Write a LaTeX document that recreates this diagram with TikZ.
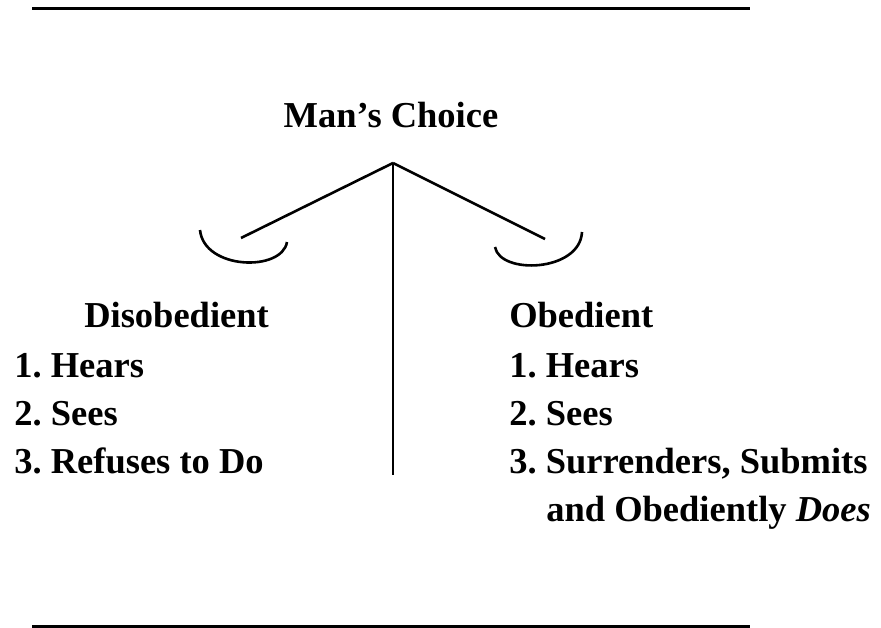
\documentclass[tikz,border=0pt]{standalone}
\usepackage{fontspec}
\setmainfont{Liberation Serif}

\begin{document}
\begin{tikzpicture}[x=1pt,y=-1pt,line width=2.6pt,
        txt/.style={anchor=base west,inner sep=0pt,font=\fontsize{36.5}{40}\selectfont\bfseries}]
        \useasboundingbox (0,0) rectangle (881,627);
        \draw[line width=3pt] (32,8) -- (750,8);
        \draw[line width=3pt] (32,626) -- (750,626);

        \node[txt,anchor=base] (choice) at (391,127) {Man's Choice};

        \coordinate (pivot) at (393,163);
        \coordinate (foot) at (393,475);
        \coordinate (lpan) at (241,238);
        \coordinate (rpan) at (545,239);

        \draw (pivot) -- (foot);
        \draw (pivot) -- (lpan);
        \draw (pivot) -- (rpan);
        \draw (200,230) .. controls (204,270) and (282,272) .. (287,242);
        \draw (495,247) .. controls (500,275) and (580,272) .. (582,232);

        \node[txt] (dis) at (83,327) {Disobedient};
        \node[txt] (dis1) at (13,377) {1.~Hears};
        \node[txt] (dis2) at (13,425) {2.~Sees};
        \node[txt] (dis3) at (13,473) {3.~Refuses to Do};

        \node[txt] (obe) at (508,327) {Obedient};
        \node[txt] (obe1) at (508,377) {1.~Hears};
        \node[txt] (obe2) at (508,425) {2.~Sees};
        \node[txt] (obe3) at (508,473) {3.~Surrenders, Submits};
        \node[txt] (obe4) at (545,521) {and Obediently \textit{Does}};
      \end{tikzpicture}
\end{document}
